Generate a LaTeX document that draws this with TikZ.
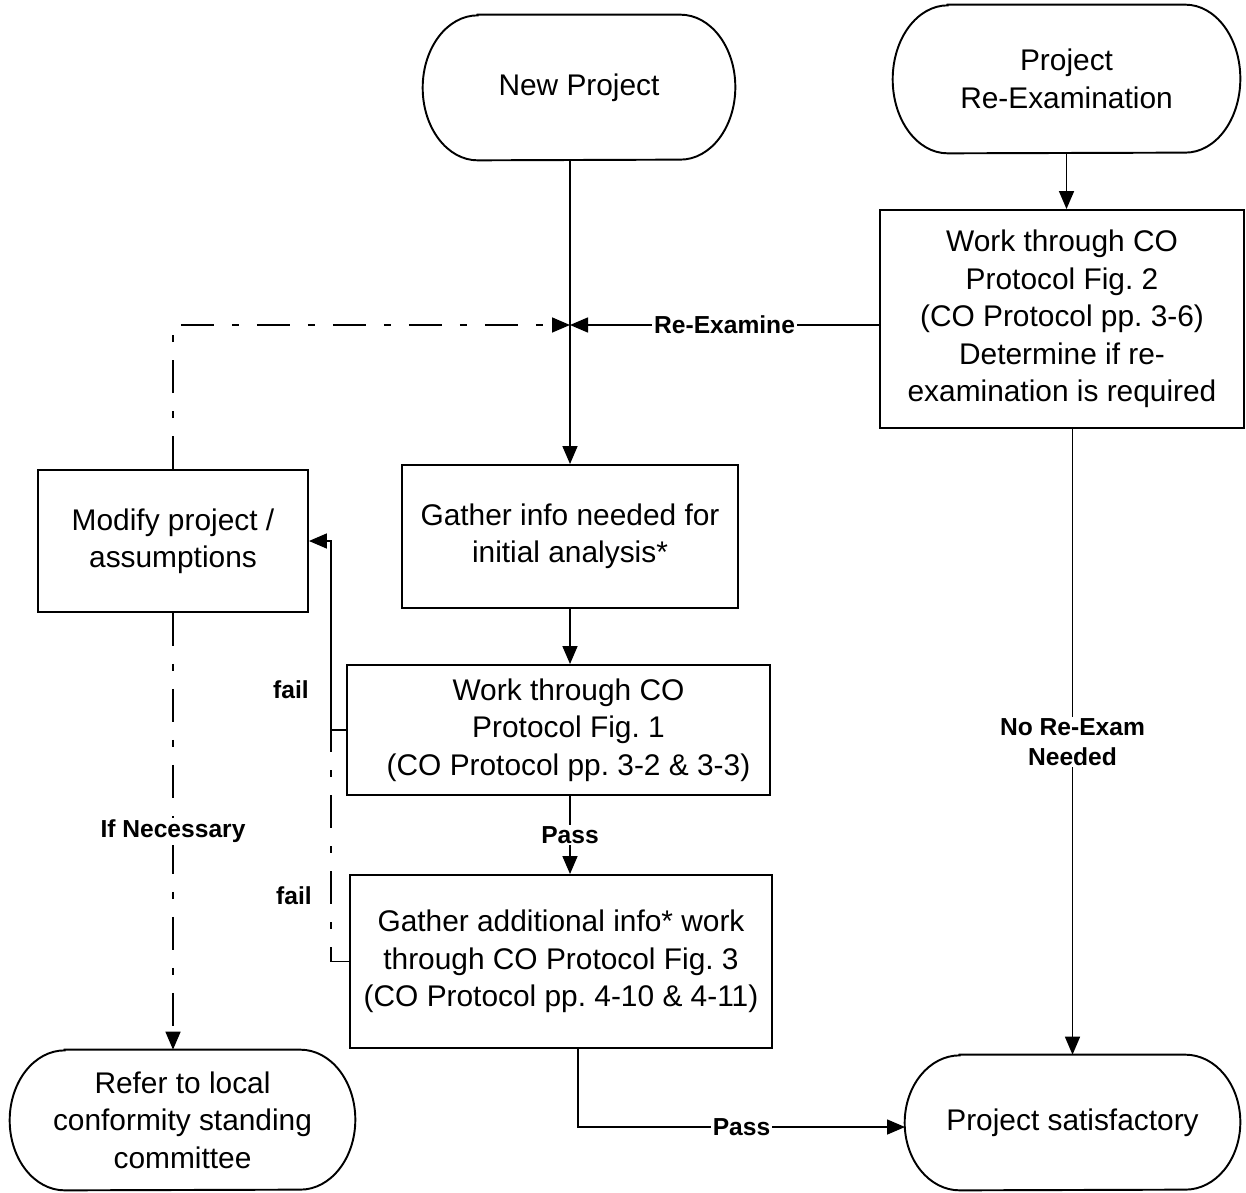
\documentclass[tikz,border=0pt]{standalone}
\usepackage{fontspec}
\setmainfont{Liberation Sans}
\usetikzlibrary{arrows.meta}
\frenchspacing
\newcommand{\termshape}[2]{%
  \draw[line width=1.1pt] ([xshift=1.1cm]#1.north west) -- ([xshift=-1.1cm]#1.north east)
    arc[start angle=90,end angle=-90,x radius=1.1cm,y radius=#2]
    -- ([xshift=1.1cm]#1.south west)
    arc[start angle=270,end angle=90,x radius=1.1cm,y radius=#2] -- cycle;}
\begin{document}
\begin{tikzpicture}[x=0.02cm,y=-0.02cm,
  box/.style={draw, line width=1.1pt, rectangle, align=center, inner sep=0pt,
    font=\frenchspacing\fontsize{17}{21.3}\selectfont},
  term/.style={align=center, inner sep=0pt, font=\fontsize{17}{21.3}\selectfont},
  lbl/.style={font=\bfseries\fontsize{14}{17}\selectfont, fill=white, inner sep=1pt, align=center},
  plainlbl/.style={font=\bfseries\fontsize{14}{17}\selectfont, inner sep=1pt},
  conn/.style={line width=0.9pt},
  arr/.style={conn, -{Triangle[length=3.6mm,width=3mm]}},
  dd/.style={dash pattern=on 0.66cm off 0.36cm on 0.14cm off 0.36cm}
]
\useasboundingbox[fill=white] (0,0) rectangle (1246,1192);

% terminals
\node[term, minimum width=6.24cm, minimum height=2.9cm] (np) at (579,87.5) {New Project};
\termshape{np}{1.45cm}
\node[term, minimum width=6.94cm, minimum height=2.96cm] (pre) at (1066.5,79) {Project\\Re-Examination};
\termshape{pre}{1.48cm}
\node[term, minimum width=6.9cm, minimum height=2.8cm] (refer) at (182.5,1120) {Refer to local\\conformity standing\\committee};
\termshape{refer}{1.4cm}
\node[term, minimum width=6.7cm, minimum height=2.7cm] (sat) at (1072.5,1122.5) {Project satisfactory};
\termshape{sat}{1.35cm}

% boxes
\node[box, minimum width=7.28cm, minimum height=4.36cm] (fig2) at (1062,319)
  {Work through CO\\Protocol Fig. 2\\(CO Protocol pp. 3-6)\\Determine if re-\\examination is required};
\node[box, minimum width=5.4cm, minimum height=2.84cm] (modify) at (173,541)
  {Modify project /\\assumptions};
\node[box, minimum width=6.72cm, minimum height=2.86cm] (gather) at (570,536.5)
  {Gather info needed for\\initial analysis*};
\node[box, minimum width=8.46cm, minimum height=2.6cm] (fig1) at (558.5,730)
  {\hspace*{0.4cm}Work through CO\\\hspace*{0.4cm}Protocol Fig. 1\\\hspace*{0.4cm}(CO Protocol pp. 3-2 \& 3-3)};
\node[box, minimum width=8.44cm, minimum height=3.46cm] (fig3) at (561,961.5)
  {Gather additional info* work\\through CO Protocol Fig. 3\\(CO Protocol pp. 4-10 \& 4-11)};

% junction
\coordinate (j) at (570,325);
\coordinate (f1) at (331,0);
\coordinate (pb) at (578,0);
\coordinate (pe) at (905,1127);

% connectors
\draw[arr] (np.south -| gather.north) -- (gather.north);
\draw[arr] (fig2.west |- j) -- node[lbl]{Re-Examine} (j);
\draw[arr,dd] (modify.north) |- (j);
\draw[arr] (pre.south) -- (pre.south |- fig2.north);
\draw[arr] (gather.south) -- (gather.south |- fig1.north);
\draw[arr] (gather.south |- fig1.south) -- node[lbl]{Pass} (gather.south |- fig3.north);
\draw[arr] (fig1.west) -| (f1 |- modify.east) -- (modify.east);
\draw[conn,dd] (fig3.west) -| (f1 |- fig1.west);
\node[plainlbl] (fail1) at (291,690) {fail};
\node[plainlbl] (fail2) at (294,896) {fail};
\draw[arr,dd] (modify.south) -- node[lbl]{If Necessary} (modify.south |- refer.north);
\draw[arr] (sat.north |- fig2.south) -- node[lbl]{No Re-Exam\\Needed} (sat.north);
\draw[arr] (fig3.south -| pb) |- node[lbl,pos=0.75]{Pass} (pe);
\end{tikzpicture}
\end{document}
